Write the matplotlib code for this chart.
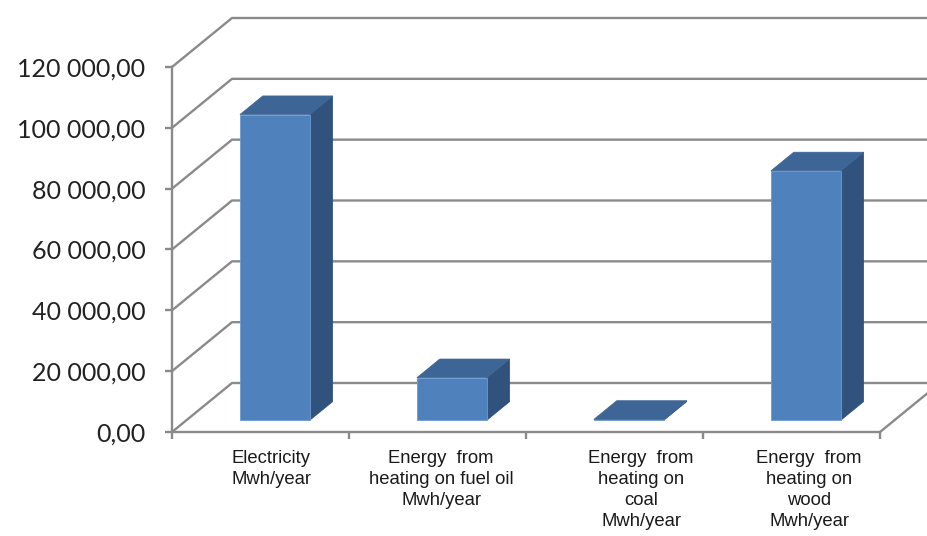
import numpy as np
import matplotlib.pyplot as plt
from matplotlib.patches import Polygon

categories = ["Electricity\nMwh/year",
              "Energy  from\nheating on fuel oil\nMwh/year",
              "Energy  from\nheating on\ncoal\nMwh/year",
              "Energy  from\nheating on\nwood\nMwh/year"]
values = [100500, 14000, 300, 82000]
yticks = [0, 20000, 40000, 60000, 80000, 100000, 120000]

# pseudo 3d layout (depth offset in data units)
DX = 60 / 177
DY = 49 * 120000 / 365
d0, d1 = 0.24, 0.62
bar_w = 0.395
label_shift = [0.06, 0.02, 0.15, 0.10]

front = "#4f81bd"
top = "#3d6595"
side = "#30527c"
grid = "#8a8a8a"

fig = plt.figure(figsize=(9.28, 5.36), dpi=100)
ax = fig.add_axes([172 / 928, (536 - 432) / 536, 708 / 928, 365 / 536])
ax.set_xlim(-0.5, 3.5)
ax.set_ylim(0, 120000)

n = len(values)
# back wall + left wall gridlines
for v in yticks:
    ax.plot([-0.5, -0.5 + DX, n - 0.5 + DX], [v, v + DY, v + DY],
            color=grid, lw=1.7, clip_on=False, zorder=1)
# floor right edge
ax.plot([n - 0.5, n - 0.5 + DX], [0, DY], color=grid, lw=1.7, clip_on=False, zorder=1)

for i, val in enumerate(values):
    x0 = i - bar_w / 2 + d0 * DX
    b0 = d0 * DY
    ax.bar(x0, val, width=bar_w, bottom=b0, align="edge", color=front,
           edgecolor="#6f9bd0", linewidth=0.6, zorder=3)
    dd = (d1 - d0)
    tp = [(x0, b0 + val), (x0 + bar_w, b0 + val),
          (x0 + bar_w + dd * DX, b0 + val + dd * DY), (x0 + dd * DX, b0 + val + dd * DY)]
    sp = [(x0 + bar_w, b0), (x0 + bar_w + dd * DX, b0 + dd * DY),
          (x0 + bar_w + dd * DX, b0 + val + dd * DY), (x0 + bar_w, b0 + val)]
    ax.add_patch(Polygon(sp, closed=True, facecolor=side, edgecolor=side, lw=0.5, zorder=2, clip_on=False))
    ax.add_patch(Polygon(tp, closed=True, facecolor=top, edgecolor=top, lw=0.5, zorder=4, clip_on=False))

for s in ["top", "right"]:
    ax.spines[s].set_visible(False)
for s in ["left", "bottom"]:
    ax.spines[s].set_color(grid)
    ax.spines[s].set_linewidth(1.7)

ax.set_yticks(yticks)
ax.set_yticklabels([f"{v:,.2f}".replace(",", " ").replace(".", ",") for v in yticks],
                   fontsize=18, family="Lato", color="#222222")
ax.tick_params(axis="y", length=5, width=1.7, color=grid, pad=14)

ax.set_xticks(np.arange(-0.5, n, 1.0))
ax.set_xticklabels([])
ax.tick_params(axis="x", length=5, width=1.7, color=grid)

for i, lab in enumerate(categories):
    ax.annotate(lab, xy=(i + label_shift[i], 0), xycoords=("data", "axes fraction"),
                xytext=(0, -18), textcoords="offset pixels", ha="center", va="top",
                fontsize=13.3, family="Liberation Sans", color="#1a1a1a", linespacing=1.3)

fig.savefig("out.png", dpi=100)
